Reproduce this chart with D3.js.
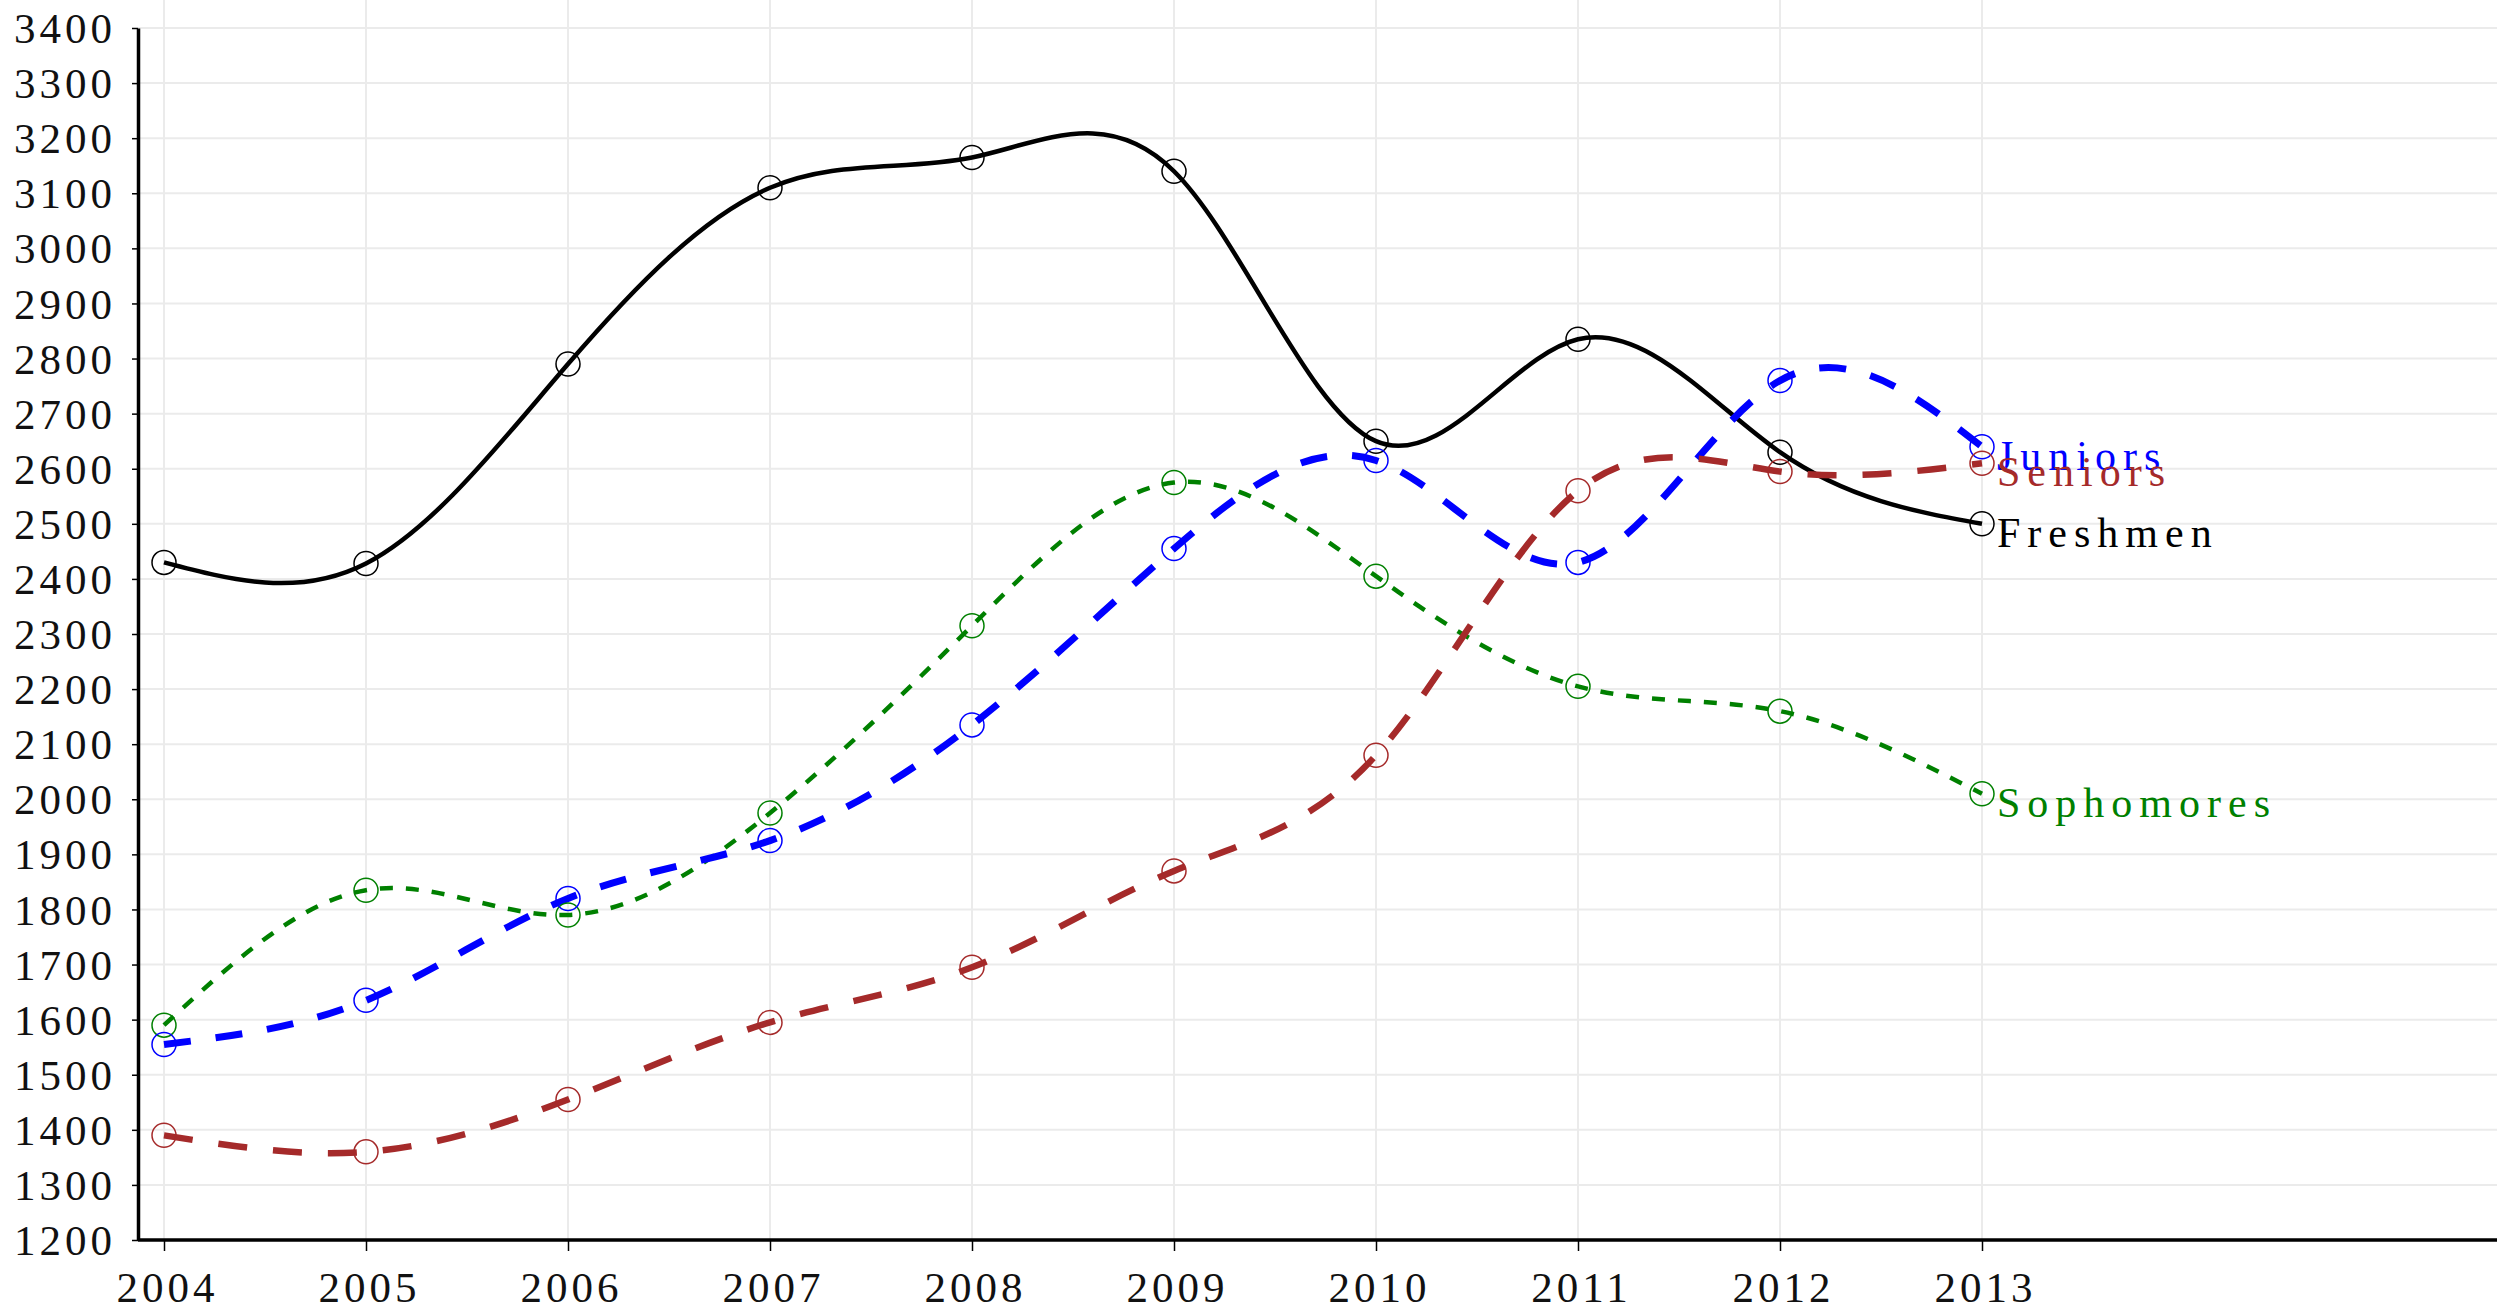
<!DOCTYPE html>
<html lang="en">
<head>
  <meta charset="UTF-8">
  <title>Enrollment by class</title>
  <script src="https://d3js.org/d3.v7.min.js"></script>
  <style>
    body { margin: 0; background: #fff; }
    svg { display: block; }
    .grid line { stroke: #ebebeb; stroke-width: 2px; }
    .axis path, .axis line { stroke: #000; }
    .axis text {
      font-family: "Liberation Serif", "Times New Roman", serif;
      font-size: 43px;
      letter-spacing: 4px;
      fill: #111;
    }
    .label {
      font-family: "Liberation Serif", "Times New Roman", serif;
      font-size: 42px;
      letter-spacing: 7px;
    }
  </style>
</head>
<body>
  <div id="chart"></div>
  <script>
    const width = 2497, height = 1311;

    // data
    const years = [2004, 2005, 2006, 2007, 2008, 2009, 2010, 2011, 2012, 2013];
    const freshmen   = [2430, 2428, 2790, 3110, 3165, 3140, 2650, 2835, 2630, 2500];
    const sophomores = [1590, 1835, 1790, 1975, 2315, 2575, 2405, 2205, 2160, 2010];
    const juniors    = [1555, 1635, 1820, 1925, 2135, 2455, 2615, 2430, 2760, 2640];
    const seniors    = [1390, 1360, 1455, 1595, 1695, 1870, 2080, 2560, 2595, 2610];
    const yTicks = d3.range(1200, 3401, 100);

    const series = [
      { name: "Freshmen",   values: freshmen,   color: "#000000", width: 4.5, dash: null },
      { name: "Sophomores", values: sophomores, color: "#008000", width: 4.5, dash: "13,13" },
      { name: "Juniors",    values: juniors,    color: "#0000ff", width: 7,   dash: "27,25" },
      { name: "Seniors",    values: seniors,    color: "#a52a2a", width: 6.5, dash: "29,26" }
    ];

    const plotLeft = 138, plotRight = width, plotTop = 28, plotBottom = 1240;

    const x = d3.scaleLinear().domain([2004, 2013]).range([164, 1982]);
    const y = d3.scaleLinear().domain([1200, 3400]).range([plotBottom, plotTop]);

    const svg = d3.select("#chart").append("svg")
      .attr("width", width)
      .attr("height", height);

    // grid
    const grid = svg.append("g").attr("class", "grid");
    grid.selectAll(".v").data(years).enter().append("line")
      .attr("x1", d => x(d)).attr("x2", d => x(d))
      .attr("y1", 0).attr("y2", plotBottom);
    grid.selectAll(".h").data(yTicks).enter().append("line")
      .attr("x1", plotLeft).attr("x2", plotRight)
      .attr("y1", d => y(d)).attr("y2", d => y(d));

    // axes
    const yAxis = svg.append("g")
      .attr("class", "axis")
      .attr("transform", `translate(${plotLeft},0)`)
      .call(d3.axisLeft(y).tickValues(yTicks).tickFormat(d3.format("d"))
        .tickSize(6).tickPadding(16).tickSizeOuter(0));
    yAxis.select(".domain").attr("stroke-width", 3.5);
    yAxis.selectAll(".tick line").attr("stroke-width", 1.5);
    yAxis.selectAll(".tick text").attr("dy", "0.34em");

    const xAxis = svg.append("g")
      .attr("class", "axis")
      .attr("transform", `translate(0,${plotBottom})`)
      .call(d3.axisBottom(x).tickValues(years).tickFormat(d3.format("d"))
        .tickSize(11).tickPadding(20).tickSizeOuter(0));
    xAxis.select(".domain").attr("d", `M${plotLeft},0H${plotRight}`).attr("stroke-width", 3.5);
    xAxis.selectAll(".tick line").attr("stroke-width", 1.5);
    xAxis.selectAll(".tick text").attr("dx", 3).attr("font-size", 42);

    // lines
    const line = d3.line()
      .x((d, i) => x(years[i]))
      .y(d => y(d))
      .curve(d3.curveNatural);

    svg.append("g").selectAll("path")
      .data(series)
      .enter().append("path")
      .attr("d", d => line(d.values))
      .attr("fill", "none")
      .attr("stroke", d => d.color)
      .attr("stroke-width", d => d.width)
      .attr("stroke-dasharray", d => d.dash);

    // point markers
    series.forEach(s => {
      svg.append("g").selectAll("circle")
        .data(s.values)
        .enter().append("circle")
        .attr("cx", (d, i) => x(years[i]))
        .attr("cy", d => y(d))
        .attr("r", 12)
        .attr("fill", "none")
        .attr("stroke", s.color)
        .attr("stroke-width", 1.5);
    });

    // series labels at the last point
    svg.append("g").selectAll("text")
      .data(series)
      .enter().append("text")
      .attr("class", "label")
      .attr("x", x(2013) + 15)
      .attr("y", d => y(d.values[d.values.length - 1]) + 23)
      .attr("fill", d => d.color)
      .text(d => d.name);
  </script>
</body>
</html>
